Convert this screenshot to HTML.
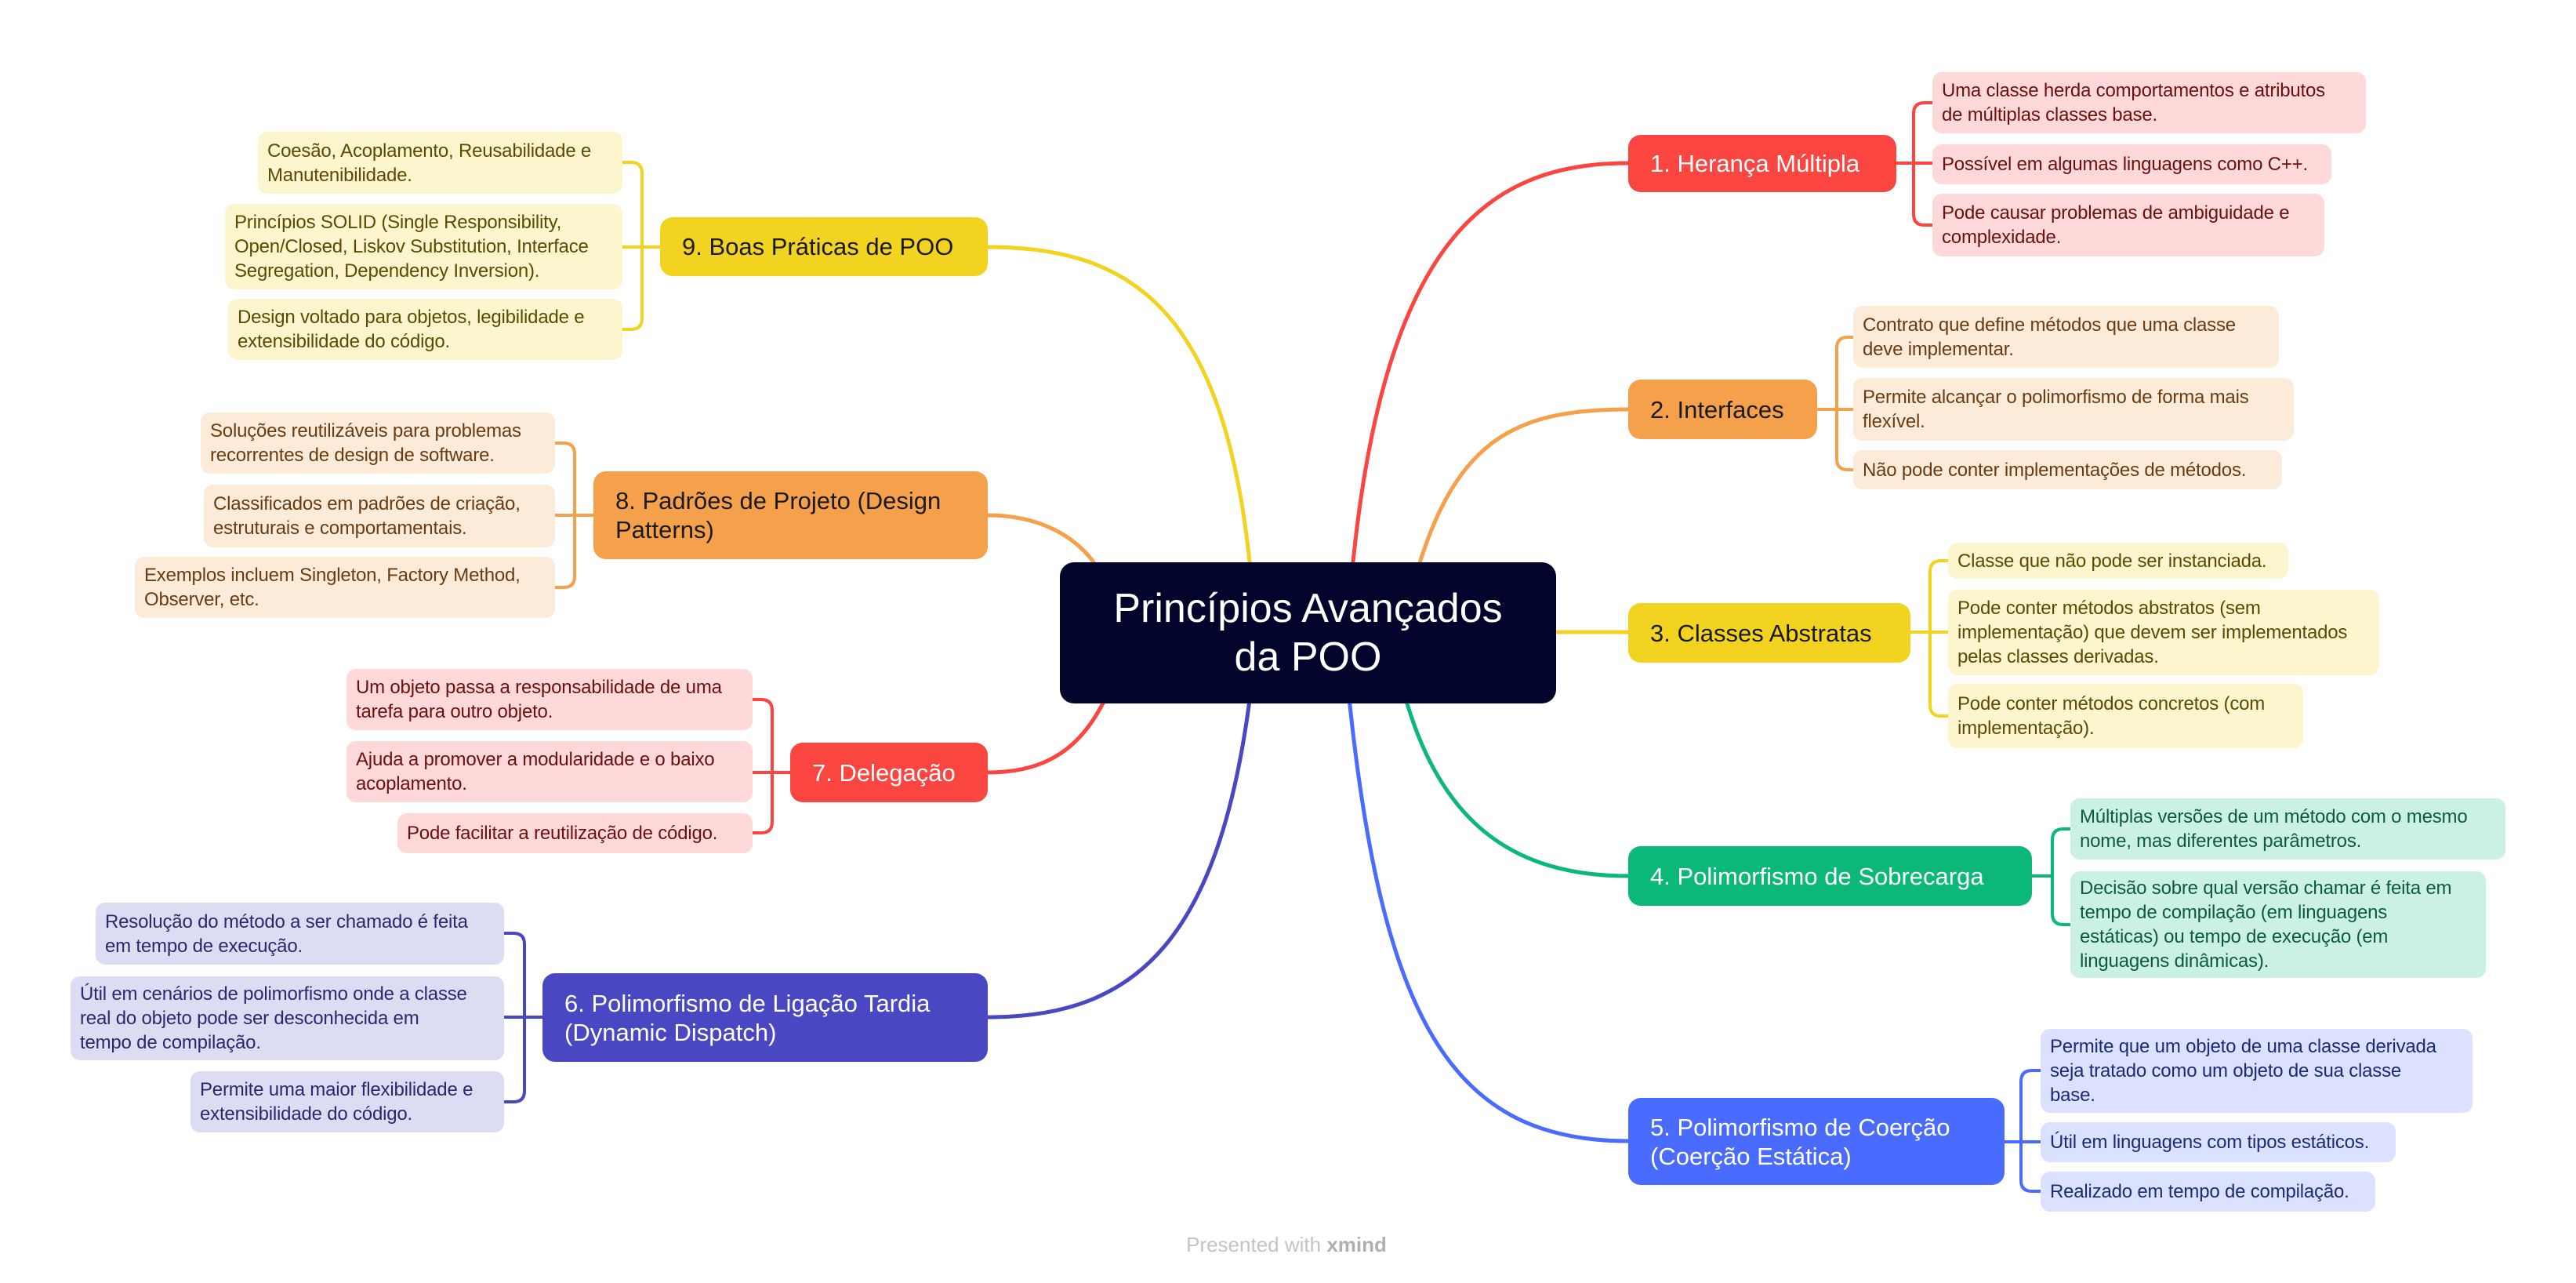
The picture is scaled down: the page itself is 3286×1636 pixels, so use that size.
<!DOCTYPE html>
<html><head><meta charset="utf-8"><style>
body{margin:0;width:3286px;height:1636px;background:#fff;position:relative;overflow:hidden;font-family:"Liberation Sans",sans-serif}
.n{position:absolute;box-sizing:border-box;display:flex;align-items:center;border-radius:14px}
.m{font-size:31px;padding:0 28px;line-height:37px;border-radius:16px}
.l{font-size:24px;padding:0 12px;line-height:31px;border-radius:12px;letter-spacing:-0.2px}
.red{background:#fa4540;color:#fff}.ora{background:#f5a04b;color:#1a1a1a}.yel{background:#f2d320;color:#1a1a1a}
.grn{background:#0bb87a;color:#fff}.blu{background:#4a6bff;color:#fff}.ind{background:#4a47c2;color:#fff}
.lr{background:#ffd9d9;color:#6b0f0f}.lo{background:#fdebda;color:#6b3a0f}.ly{background:#fdf5ce;color:#5c4a00}
.lg{background:#cbf1e3;color:#0b5c3f}.lb{background:#dbe1ff;color:#1b2a7a}.li{background:#dcdcf2;color:#2a2870}
</style></head><body>
<svg width="3286" height="1636" style="position:absolute;left:0;top:0" fill="none" stroke-width="5" stroke-linecap="round">
<path d="M1722,760 C1760,300 1900,208 2077,208" stroke="#fa4540"/>
<path d="M1799,760 C1850,560 1930,522 2077,522" stroke="#f5a04b"/>
<path d="M1960,806 H2077" stroke="#f2d320"/>
<path d="M1785,860 C1830,1050 1930,1117 2077,1117" stroke="#0bb87a"/>
<path d="M1718,860 C1760,1300 1850,1455 2077,1455" stroke="#4a6bff"/>
<path d="M1598,860 C1560,1200 1450,1297 1260,1297" stroke="#4a47c2"/>
<path d="M1423,860 C1390,950 1340,985 1260,985" stroke="#fa4540"/>
<path d="M1409,740 C1380,680 1320,657 1260,657" stroke="#f5a04b"/>
<path d="M1598,760 C1570,400 1450,315 1260,315" stroke="#f2d320"/>
<g stroke-width="4">
<path d="M2419,208 H2465 M2465,131 H2455 Q2441,131 2441,145 V273 Q2441,287 2455,287 H2465" stroke="#fa4540"/>
<path d="M2318,522 H2364 M2364,430 H2357 Q2343,430 2343,444 V585 Q2343,599 2357,599 H2364" stroke="#f5a04b"/>
<path d="M2437,806 H2485 M2485,715 H2476 Q2462,715 2462,729 V899 Q2462,913 2476,913 H2485" stroke="#f2d320"/>
<path d="M2592,1117 H2618 M2641,1057 H2632 Q2618,1057 2618,1071 V1165 Q2618,1179 2632,1179 H2641" stroke="#0bb87a"/>
<path d="M2557,1456 H2603 M2603,1365 H2592 Q2578,1365 2578,1379 V1505 Q2578,1519 2592,1519 H2603" stroke="#4a6bff"/>
<path d="M692,1297 H643 M643,1190 H655 Q669,1190 669,1204 V1391 Q669,1405 655,1405 H643" stroke="#4a47c2"/>
<path d="M1008,985 H960 M960,892 H971 Q985,892 985,906 V1048 Q985,1062 971,1062 H960" stroke="#fa4540"/>
<path d="M757,657 H708 M708,565 H719 Q733,565 733,579 V735 Q733,749 719,749 H708" stroke="#f5a04b"/>
<path d="M842,315 H794 M794,207 H805 Q819,207 819,221 V406 Q819,420 805,420 H794" stroke="#f2d320"/>
</g>
</svg>
<div class="n" style="left:1352px;top:717px;width:633px;height:180px;background:#02042b;color:#fff;font-size:52px;line-height:62px;justify-content:center;text-align:center;border-radius:18px;font-weight:500">Princípios Avançados<br>da POO</div>

<div class="n m red" style="left:2077px;top:172px;width:342px;height:73px">1. Herança Múltipla</div>
<div class="n m ora" style="left:2077px;top:484px;width:241px;height:76px">2. Interfaces</div>
<div class="n m yel" style="left:2077px;top:769px;width:360px;height:76px">3. Classes Abstratas</div>
<div class="n m grn" style="left:2077px;top:1079px;width:515px;height:76px">4. Polimorfismo de Sobrecarga</div>
<div class="n m blu" style="left:2077px;top:1400px;width:480px;height:111px">5. Polimorfismo de Coerção<br>(Coerção Estática)</div>
<div class="n m ind" style="left:692px;top:1241px;width:568px;height:113px">6. Polimorfismo de Ligação Tardia<br>(Dynamic Dispatch)</div>
<div class="n m red" style="left:1008px;top:947px;width:252px;height:76px">7. Delegação</div>
<div class="n m ora" style="left:757px;top:601px;width:503px;height:112px">8. Padrões de Projeto (Design<br>Patterns)</div>
<div class="n m yel" style="left:842px;top:277px;width:418px;height:75px">9. Boas Práticas de POO</div>

<div class="n l lr" style="left:2465px;top:92px;width:553px;height:78px">Uma classe herda comportamentos e atributos<br>de múltiplas classes base.</div>
<div class="n l lr" style="left:2465px;top:184px;width:509px;height:51px">Possível em algumas linguagens como C++.</div>
<div class="n l lr" style="left:2465px;top:247px;width:500px;height:80px">Pode causar problemas de ambiguidade e<br>complexidade.</div>

<div class="n l lo" style="left:2364px;top:390px;width:543px;height:79px">Contrato que define métodos que uma classe<br>deve implementar.</div>
<div class="n l lo" style="left:2364px;top:482px;width:562px;height:80px">Permite alcançar o polimorfismo de forma mais<br>flexível.</div>
<div class="n l lo" style="left:2364px;top:574px;width:547px;height:50px">Não pode conter implementações de métodos.</div>

<div class="n l ly" style="left:2485px;top:692px;width:434px;height:46px">Classe que não pode ser instanciada.</div>
<div class="n l ly" style="left:2485px;top:752px;width:550px;height:109px">Pode conter métodos abstratos (sem<br>implementação) que devem ser implementados<br>pelas classes derivadas.</div>
<div class="n l ly" style="left:2485px;top:872px;width:453px;height:82px">Pode conter métodos concretos (com<br>implementação).</div>

<div class="n l lg" style="left:2641px;top:1018px;width:555px;height:78px">Múltiplas versões de um método com o mesmo<br>nome, mas diferentes parâmetros.</div>
<div class="n l lg" style="left:2641px;top:1111px;width:530px;height:136px">Decisão sobre qual versão chamar é feita em<br>tempo de compilação (em linguagens<br>estáticas) ou tempo de execução (em<br>linguagens dinâmicas).</div>

<div class="n l lb" style="left:2603px;top:1312px;width:551px;height:107px">Permite que um objeto de uma classe derivada<br>seja tratado como um objeto de sua classe<br>base.</div>
<div class="n l lb" style="left:2603px;top:1431px;width:453px;height:51px">Útil em linguagens com tipos estáticos.</div>
<div class="n l lb" style="left:2603px;top:1494px;width:427px;height:51px">Realizado em tempo de compilação.</div>

<div class="n l li" style="left:122px;top:1151px;width:521px;height:79px">Resolução do método a ser chamado é feita<br>em tempo de execução.</div>
<div class="n l li" style="left:90px;top:1245px;width:553px;height:107px">Útil em cenários de polimorfismo onde a classe<br>real do objeto pode ser desconhecida em<br>tempo de compilação.</div>
<div class="n l li" style="left:243px;top:1366px;width:400px;height:78px">Permite uma maior flexibilidade e<br>extensibilidade do código.</div>

<div class="n l lr" style="left:442px;top:853px;width:518px;height:78px">Um objeto passa a responsabilidade de uma<br>tarefa para outro objeto.</div>
<div class="n l lr" style="left:442px;top:945px;width:518px;height:78px">Ajuda a promover a modularidade e o baixo<br>acoplamento.</div>
<div class="n l lr" style="left:507px;top:1037px;width:453px;height:51px">Pode facilitar a reutilização de código.</div>

<div class="n l lo" style="left:256px;top:526px;width:452px;height:78px">Soluções reutilizáveis para problemas<br>recorrentes de design de software.</div>
<div class="n l lo" style="left:260px;top:618px;width:448px;height:80px">Classificados em padrões de criação,<br>estruturais e comportamentais.</div>
<div class="n l lo" style="left:172px;top:710px;width:536px;height:78px">Exemplos incluem Singleton, Factory Method,<br>Observer, etc.</div>

<div class="n l ly" style="left:329px;top:168px;width:465px;height:79px">Coesão, Acoplamento, Reusabilidade e<br>Manutenibilidade.</div>
<div class="n l ly" style="left:287px;top:260px;width:507px;height:109px">Princípios SOLID (Single Responsibility,<br>Open/Closed, Liskov Substitution, Interface<br>Segregation, Dependency Inversion).</div>
<div class="n l ly" style="left:291px;top:381px;width:503px;height:78px">Design voltado para objetos, legibilidade e<br>extensibilidade do código.</div>

<div style="position:absolute;left:1500px;top:1572px;width:282px;text-align:center;font-size:26px;color:#c4c4c4">Presented with <b style="color:#b0b0b0">xmind</b></div>
</body></html>
